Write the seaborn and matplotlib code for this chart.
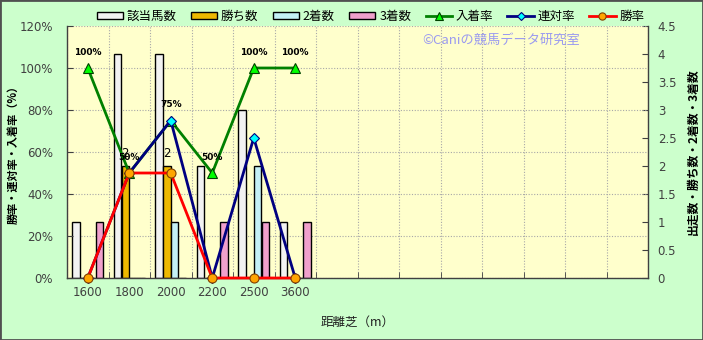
import numpy as np
import pandas as pd
import matplotlib
matplotlib.use("Agg")
import matplotlib.pyplot as plt
from matplotlib.ticker import MultipleLocator, FixedLocator, FuncFormatter
from matplotlib.patches import Patch, Rectangle
from matplotlib.lines import Line2D
import seaborn as sns

# ---------------- data ----------------
distances = ["1600", "1800", "2000", "2200", "2500", "3600"]
runners = [1, 4, 4, 2, 3, 1]          # 該当馬数
wins = [0, 2, 2, 0, 0, 0]             # 勝ち数
seconds = [0, 0, 1, 0, 2, 0]          # 2着数
thirds = [1, 0, 0, 1, 1, 1]           # 3着数
place_rate = [100, 50, 75, 50, 100, 100]      # 入着率 (%)
quinella_rate = [0, 50, 75, 0, 66.7, 0]       # 連対率 (%)
win_rate = [0, 50, 50, 0, 0, 0]               # 勝率 (%)
count_names = ["該当馬数", "勝ち数", "2着数", "3着数"]
rate_names = ["入着率", "連対率", "勝率"]
n_slots = 14

JP = ["Noto Sans CJK JP", "DejaVu Sans"]
plt.rcParams["font.family"] = JP

bar_colors = ["#F2F2F2", "#EDB800", "#C4F0F6", "#F0A0CC"]
line_styles = {
    "入着率": dict(color="#008000", marker="^", mfc="#00FF00", mec="#004000", ms=7.5),
    "連対率": dict(color="#000080", marker="D", mfc="#00FFFF", mec="#000080", ms=5),
    "勝率": dict(color="#FF0000", marker="o", mfc="#FFA500", mec="#804000", ms=6.5),
}

df_counts = pd.DataFrame({
    "距離": distances,
    "該当馬数": runners, "勝ち数": wins, "2着数": seconds, "3着数": thirds,
}).melt(id_vars="距離", var_name="種別", value_name="数")
df_rates = pd.DataFrame({
    "距離": distances,
    "入着率": place_rate, "連対率": quinella_rate, "勝率": win_rate,
})

fig = plt.figure(figsize=(7.03, 3.40), dpi=100, facecolor="#CCFFCC")
ax = fig.add_axes([67 / 703, 1 - 278 / 340, 581 / 703, 252 / 340])
ax.set_facecolor("#FFFFCC")

# bars (count scale)
sns.barplot(data=df_counts, x="距離", y="数", hue="種別", order=distances,
            hue_order=count_names, palette=bar_colors, saturation=1,
            width=0.76, gap=0.04, edgecolor="black", linewidth=1,
            errorbar=None, legend=False, ax=ax)

ax2 = ax.twinx()
for name in rate_names:
    st = line_styles[name]
    sns.pointplot(data=df_rates, x="距離", y=name, order=distances,
                  color=st["color"], markers=st["marker"], linestyles="-",
                  errorbar=None, ax=ax2, markersize=st["ms"],
                  markerfacecolor=st["mfc"], markeredgecolor=st["mec"],
                  markeredgewidth=0.8, linewidth=2, clip_on=False)

# labels on lines and bars
for i, v in enumerate(place_rate):
    ax2.annotate(f"{v:.0f}%", (i, v), xytext=(0, 11.5), textcoords="offset points",
                 ha="center", va="center", fontsize=6.5, fontweight="bold",
                 family="DejaVu Sans", zorder=10)
ax.bar_label(ax.containers[1], labels=[str(v) if v else "" for v in wins],
             padding=4, fontsize=8.5, family="DejaVu Sans")

# axes limits / ticks
ax.set_xlim(-0.5, n_slots - 0.5)
ax.set_ylim(0, 4.5)
ax2.set_ylim(0, 120)

ax.yaxis.tick_right()
ax.yaxis.set_label_position("right")
ax2.yaxis.tick_left()
ax2.yaxis.set_label_position("left")

ax.yaxis.set_major_locator(MultipleLocator(0.5))
ax.yaxis.set_major_formatter(FuncFormatter(lambda v, p: f"{v:g}"))
ax.yaxis.set_minor_locator(MultipleLocator(0.75))
ax.yaxis.remove_overlapping_locs = False
ax2.yaxis.set_major_locator(MultipleLocator(20))
ax2.yaxis.set_major_formatter(FuncFormatter(lambda v, p: f"{v:.0f}%"))

ax.xaxis.set_minor_locator(FixedLocator(np.arange(n_slots + 1) - 0.5))

tick_col = "#404040"
ax.tick_params(axis="x", which="major", length=0, labelsize=8.5, labelcolor=tick_col, pad=6)
ax.tick_params(axis="x", which="minor", length=4, direction="in", color=tick_col)
ax.tick_params(axis="y", which="major", length=4, direction="in", labelsize=8.5,
               labelcolor=tick_col, color=tick_col, pad=7)
ax.tick_params(axis="y", which="minor", length=0)
ax2.tick_params(axis="y", which="major", length=4, direction="in", labelsize=8.5,
                labelcolor=tick_col, color=tick_col, pad=10)
for lbl in ax.get_xticklabels() + ax.get_yticklabels() + ax2.get_yticklabels():
    lbl.set_family("DejaVu Sans")

ax.set_axisbelow(True)
grid_kw = dict(color="#A8A8A8", linestyle=(0, (1, 1.5)), linewidth=0.8)
ax.grid(False)
ax.grid(True, which="minor", axis="both", **grid_kw)

ax.spines["top"].set_visible(False)
for s in ["left", "right", "bottom"]:
    ax.spines[s].set_color(tick_col)
    ax.spines[s].set_linewidth(1)
for s in ax2.spines.values():
    s.set_visible(False)

ax.set_xlabel("距離芝（m）", fontsize=9, labelpad=12, color="#202020")
ax.set_ylabel("出走数・勝ち数・2着数・3着数", fontsize=8.5, fontweight="bold",
              rotation=90)
ax.yaxis.set_label_coords(1.067, 0.5)
ax2.set_ylabel("勝率・連対率・入着率（%）", fontsize=8, fontweight="bold")
ax2.yaxis.set_label_coords(-0.081, 0.5)
ax2.set_xlabel("")

# watermark
ax.text(0.747, 0.944, "©Caniの競馬データ研究室", transform=ax.transAxes,
        ha="center", va="center", fontsize=9.5, color="#9A9AF0")

# legend
handles = [Patch(facecolor=c, edgecolor="black", linewidth=1) for c in bar_colors]
for name in rate_names:
    st = line_styles[name]
    handles.append(Line2D([], [], color=st["color"], marker=st["marker"], lw=2,
                          markersize=st["ms"] * 0.8, markerfacecolor=st["mfc"],
                          markeredgecolor=st["mec"], markeredgewidth=0.8))
fig.legend(handles, count_names + rate_names, ncol=7, loc="center",
           bbox_to_anchor=(0.527, 0.952), frameon=False, fontsize=9,
           handlelength=2.1, handleheight=0.5, handletextpad=0.3,
           columnspacing=1.15)

fig.patches.append(Rectangle((0, 0), 1, 1, transform=fig.transFigure, fill=False,
                             edgecolor="#505050", linewidth=2))

fig.savefig("out.png", dpi=100, facecolor=fig.get_facecolor())
